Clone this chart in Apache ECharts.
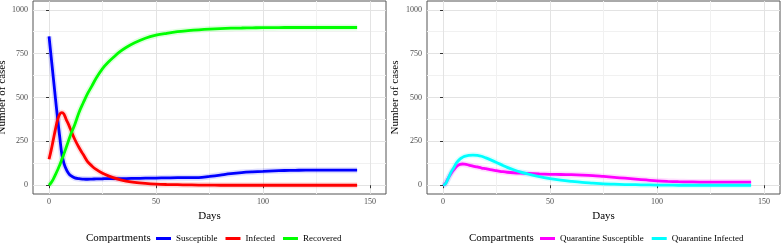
<!DOCTYPE html>
<html>
<head>
<meta charset="utf-8">
<script src="https://cdn.jsdelivr.net/npm/echarts@6/dist/echarts.min.js"></script>
<style>html,body{margin:0;padding:0;background:#fff;}#c{width:781px;height:246px;}</style>
</head>
<body>
<div id="c"></div>
<script>
// ---- data ----
var days = [0,1,2,3,4,5,6,7,8,9,10,12,14,16,18,20,22,25,28,30,33,36,40,45,50,55,60,65,70,75,80,85,90,95,100,105,110,115,120,130,144];
var susceptible = [848,730,612,494,380,275,175,123,92,70,56,42,37,35,34,35,36,37,38,38,38,38,39,40,41,42,43,43,43,50,58,66,72,76,79,82,84,85,86,86,86];
var infected =    [148,200,260,320,372,405,414,405,375,350,320,262,215,175,135,110,90,68,52,43,32,24,16,10,6,4,3,2,1,1,0,0,0,0,0,0,0,0,0,0,0];
var recovered =   [0,15,35,60,87,115,148,180,215,250,285,345,415,470,522,565,610,665,705,728,760,785,812,838,855,866,875,881,886,890,893,895,896,897,898,898,899,899,899,899,899];
var qSusceptible = [0,8,30,52,72,88,103,113,119,121,120,115,109,104,98,94,89,83,77,74,71,69,67,64,62,61,60,58,55,50,45,40,35,30,25,22,20,19,18,18,18];
var qInfected =    [0,6,28,55,80,100,122,138,150,158,164,170,172,170,165,156,146,130,113,102,88,76,63,49,38,29,22,16,12,8,6,4,3,2,1,1,0,0,0,0,0];
var xTicks = [0,50,100,150];
var xMinor = [25,75,125];
var yTicks = [0,250,500,750,1000];
var yMinor = [125,375,625,875];
var leftNames = ['Susceptible','Infected','Recovered'];
var rightNames = ['Quarantine Susceptible','Quarantine Infected'];

var FONT = 'Liberation Serif';
function pairs(v){ return days.map(function(d,i){ return [d, v[i]]; }); }
function plain(v){ return String(v); }

function xAxes(gi){
  return [{
    gridIndex: gi, type:'value', min:-7.5, max:157.5,
    axisLine:{show:false},
    axisTick:{show:true, customValues:xTicks, length:3, lineStyle:{color:'#333'}},
    axisLabel:{customValues:xTicks, formatter:plain, fontSize:8, color:'#4d4d4d', margin:4, fontFamily:FONT},
    splitLine:{show:true, lineStyle:{color:'#e3e3e3', width:1}},
    name:'Days', nameLocation:'middle', nameGap:17,
    nameTextStyle:{fontSize:11, color:'#000', fontFamily:FONT}
  },{
    gridIndex: gi, type:'value', min:-7.5, max:157.5, position:'bottom',
    axisLine:{show:false}, axisTick:{show:false, customValues:xMinor},
    axisLabel:{show:false, customValues:xMinor},
    splitLine:{show:true, lineStyle:{color:'#f1f1f1', width:1}}
  }];
}
function yAxes(gi, gap){
  return [{
    gridIndex: gi, type:'value', min:-50, max:1050,
    axisLine:{show:false},
    axisTick:{show:true, customValues:yTicks, length:3, lineStyle:{color:'#333'}},
    axisLabel:{customValues:yTicks, formatter:plain, fontSize:8, color:'#4d4d4d', margin:5, fontFamily:FONT},
    splitLine:{show:true, lineStyle:{color:'#e3e3e3', width:1}},
    name:'Number of cases', nameLocation:'middle', nameGap:gap, nameRotate:90,
    nameTextStyle:{fontSize:11, color:'#000', fontFamily:FONT}
  },{
    gridIndex: gi, type:'value', min:-50, max:1050, position:'left',
    axisLine:{show:false}, axisTick:{show:false, customValues:yMinor},
    axisLabel:{show:false, customValues:yMinor},
    splitLine:{show:true, lineStyle:{color:'#f1f1f1', width:1}}
  }];
}

function mkSeries(name, vals, color, xi, yi){
  return [{
    name: name+' runs', type:'line', xAxisIndex:xi, yAxisIndex:yi, data:pairs(vals),
    smooth:0.35, showSymbol:false, silent:true, z:2,
    lineStyle:{color:color, width:6, opacity:0.13}
  },{
    name: name, type:'line', xAxisIndex:xi, yAxisIndex:yi, data:pairs(vals),
    smooth:0.35, showSymbol:false, z:3, color:color,
    lineStyle:{color:color, width:2.8}
  }];
}

var series = [].concat(
  mkSeries('Susceptible', susceptible, '#0000ff', 0, 0),
  mkSeries('Infected', infected, '#ff0000', 0, 0),
  mkSeries('Recovered', recovered, '#00ff00', 0, 0),
  mkSeries('Quarantine Susceptible', qSusceptible, '#ff00ff', 2, 2),
  mkSeries('Quarantine Infected', qInfected, '#00ffff', 2, 2)
);

var legendCommon = {
  icon:'rect', itemWidth:15, itemHeight:3, itemGap:8, top:234, padding:0,
  selectedMode:false,
  textStyle:{fontSize:9, color:'#000', fontFamily:FONT}
};

var option = {
  animation:false,
  backgroundColor:'#fff',
  title:[
    {text:'Compartments', left:86, top:233, padding:0, textStyle:{fontSize:11, fontWeight:'normal', color:'#000', fontFamily:FONT}},
    {text:'Compartments', left:469, top:233, padding:0, textStyle:{fontSize:11, fontWeight:'normal', color:'#000', fontFamily:FONT}}
  ],
  legend:[
    Object.assign({}, legendCommon, {data:leftNames, left:156}),
    Object.assign({}, legendCommon, {data:rightNames, left:540})
  ],
  grid:[
    {left:33, top:1, width:353, height:193, show:true, borderColor:'#555', borderWidth:1, backgroundColor:'#fff', outerBoundsMode:'none', containLabel:false},
    {left:427, top:1, width:353, height:193, show:true, borderColor:'#555', borderWidth:1, backgroundColor:'#fff', outerBoundsMode:'none', containLabel:false}
  ],
  xAxis: [].concat(xAxes(0), xAxes(1)),
  yAxis: [].concat(yAxes(0, 24), yAxes(1, 26)),
  series: series
};
var chart = echarts.init(document.getElementById('c'), null, {renderer:'canvas'});
chart.setOption(option);
</script>
</body>
</html>
